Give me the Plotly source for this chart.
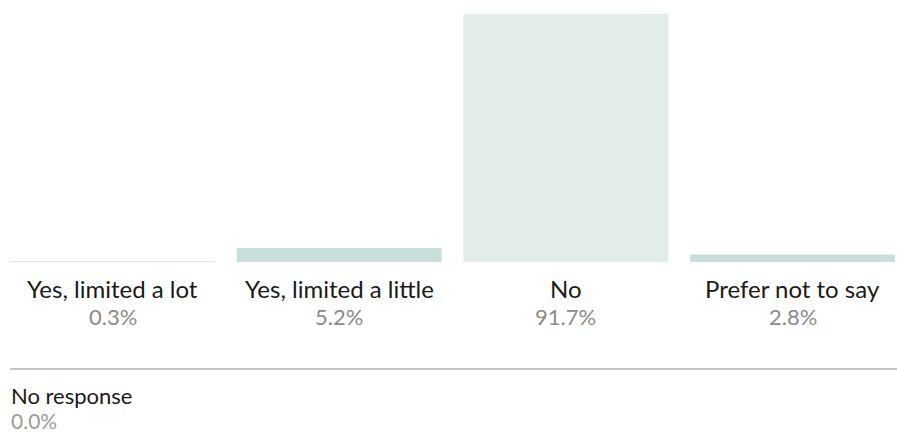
import plotly.graph_objects as go

categories = ["Yes, limited a lot", "Yes, limited a little", "No", "Prefer not to say"]
values = [0.3, 5.2, 91.7, 2.8]
bar_colors = ["#dbe8e5", "#c9dedb", "#e2ecea", "#c9dedb"]
extra_label = "No response"
extra_value = 0.0

FONT = "Lato, 'Open Sans', sans-serif"
W, H = 897, 432
T, B = 14, 170
PH = H - T - B

fig = go.Figure(go.Bar(
    x=list(range(len(categories))), y=values,
    marker=dict(color=bar_colors, line=dict(width=0)),
    hoverinfo="skip",
))

annotations = []
for i, (c, v) in enumerate(zip(categories, values)):
    annotations.append(dict(x=i, xref="x", y=0, yref="paper", yanchor="middle",
                            yshift=-26, text=c, showarrow=False, borderpad=0,
                            font=dict(family=FONT, size=24, color="#1a1a1a")))
    annotations.append(dict(x=i, xref="x", y=0, yref="paper", yanchor="middle",
                            yshift=-54, text=f"{v:.1f}%", showarrow=False, borderpad=0,
                            font=dict(family=FONT, size=22, color="#8a8a8a")))

annotations.append(dict(x=10 / W, xref="paper", xanchor="left", y=0, yref="paper",
                        yanchor="middle", yshift=-133, text=extra_label, showarrow=False,
                        borderpad=0, font=dict(family=FONT, size=22, color="#1a1a1a")))
annotations.append(dict(x=10 / W, xref="paper", xanchor="left", y=0, yref="paper",
                        yanchor="bottom", yshift=-B - 2, text=f"{extra_value:.1f}%", showarrow=False,
                        borderpad=0, font=dict(family=FONT, size=21, color="#9a9a9a")))

step = 226.7
x0 = -112.5 / step
x1 = x0 + W / step

fig.update_layout(
    width=W, height=H,
    margin=dict(l=0, r=0, t=T, b=B, pad=0),
    paper_bgcolor="white", plot_bgcolor="white",
    bargap=0.096,
    showlegend=False,
    annotations=annotations,
    shapes=[dict(type="line", xref="paper", yref="paper", x0=10 / W, x1=1,
                 y0=-107 / PH, y1=-107 / PH, line=dict(color="#8a8a8a", width=1))],
    xaxis=dict(visible=False, range=[x0, x1], fixedrange=True),
    yaxis=dict(visible=False, range=[0, 91.7], fixedrange=True),
)

fig.write_html("out.html", config={"displayModeBar": False},
               post_script="document.body.style.margin='0';document.body.style.overflow='hidden';")
